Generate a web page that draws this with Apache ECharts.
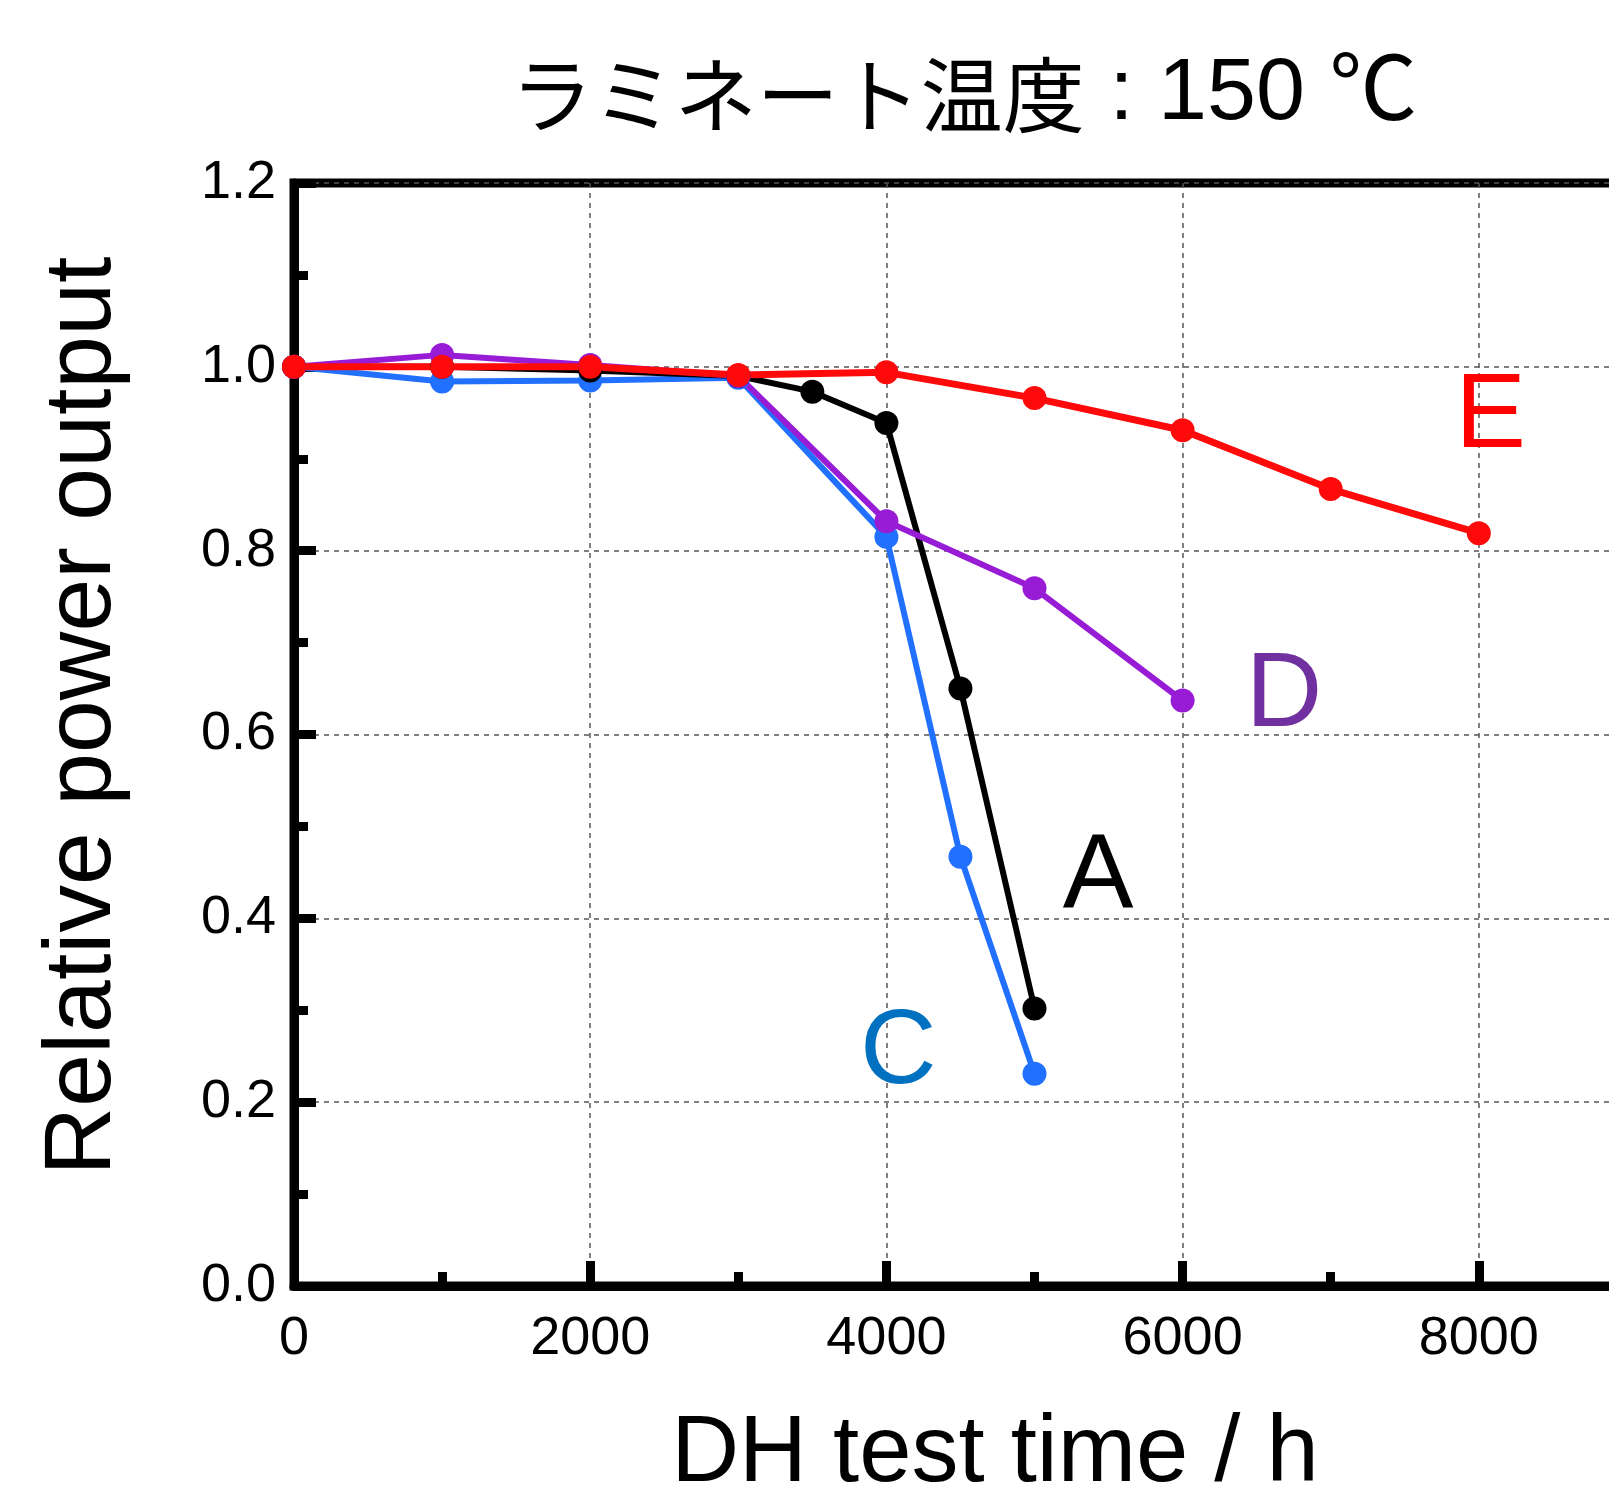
<!DOCTYPE html>
<html>
<head>
    <meta charset="UTF-8">
    <title>ラミネート温度 150℃</title>
    <script src="https://cdn.jsdelivr.net/npm/echarts@6/dist/echarts.min.js"></script>
    <style>
        html, body { margin: 0; padding: 0; background: #fff; overflow: hidden; }
        /* 右端の枠は画面外にはみ出させる */
        #main { width: 1800px; height: 1494px; }
    </style>
</head>
<body>
<div id="main"></div>
<script>
    // 試験時間 (h) と相対出力
    var hoursA = [0, 1000, 2000, 3000, 3500, 4000, 4500, 5000];
    var outA   = [1.0, 1.0, 0.996, 0.99, 0.973, 0.939, 0.650, 0.302];
    var hoursC = [0, 1000, 2000, 3000, 4000, 4500, 5000];
    var outC   = [1.0, 0.984, 0.985, 0.988, 0.815, 0.467, 0.231];
    var hoursD = [0, 1000, 2000, 3000, 4000, 5000, 6000];
    var outD   = [1.0, 1.013, 1.002, 0.99, 0.832, 0.759, 0.637];
    var hoursE = [0, 1000, 2000, 3000, 4000, 5000, 6000, 7000, 8000];
    var outE   = [1.0, 1.0, 1.0, 0.991, 0.994, 0.966, 0.931, 0.867, 0.819];

    // 系列ラベル (A, C, D, E) の位置
    var labelNames = ['A', 'C', 'D', 'E'];
    var labelX = [5430, 4080, 6685, 8080];
    var labelY = [0.444, 0.253, 0.641, 0.945];

    var xTicks = [0, 2000, 4000, 6000, 8000];

    var FONT = "'Liberation Sans', Arial, Helvetica, sans-serif";

    function pairs(xs, ys) {
        var out = [];
        for (var i = 0; i < xs.length; i++) out.push([xs[i], ys[i]]);
        return out;
    }

    function tag(i, color) {
        return {
            symbol: 'circle',
            symbolSize: 1,
            itemStyle: {color: 'rgba(0,0,0,0)'},
            label: {
                show: true, position: 'inside', color: color,
                fontFamily: FONT, fontSize: 106,
                formatter: labelNames[i]
            },
            data: [{coord: [labelX[i], labelY[i]]}]
        };
    }

    function line(name, xs, ys, color, width, labelIdx, labelColor) {
        return {
            name: name,
            type: 'line',
            data: pairs(xs, ys),
            symbol: 'circle',
            symbolSize: 24,
            lineStyle: {color: color, width: width},
            itemStyle: {color: color},
            markPoint: tag(labelIdx, labelColor)
        };
    }

    var chart = echarts.init(document.getElementById('main'), null, {renderer: 'canvas'});

    var tickStyle = {color: '#000', width: 9};

    chart.setOption({
        animation: false,
        backgroundColor: '#fff',
        grid: {
            left: 294, top: 183, bottom: 208, right: 25,
            show: true, borderColor: '#000', borderWidth: 9
        },
        xAxis: {
            type: 'value', min: 0, max: 10000, interval: 2000,
            axisLine: {show: true, onZero: false, lineStyle: tickStyle},
            axisTick: {show: true, inside: true, length: 25, lineStyle: tickStyle},
            minorTick: {show: true, splitNumber: 2, length: 14, lineStyle: tickStyle},
            axisLabel: {
                color: '#000', fontFamily: FONT, fontSize: 54, margin: 26,
                formatter: function (v) { return xTicks.indexOf(v) >= 0 ? String(v) : ''; }
            },
            splitLine: {show: true, lineStyle: {color: '#555', type: [5, 5], width: 1.5}}
        },
        yAxis: {
            type: 'value', min: 0, max: 1.2, interval: 0.2,
            axisLine: {show: true, onZero: false, lineStyle: tickStyle},
            axisTick: {show: true, inside: true, length: 22, lineStyle: tickStyle},
            minorTick: {show: true, splitNumber: 2, length: 14, lineStyle: tickStyle},
            axisLabel: {
                color: '#000', fontFamily: FONT, fontSize: 54, margin: 18,
                formatter: function (v) { return v.toFixed(1); }
            },
            splitLine: {show: true, lineStyle: {color: '#555', type: [5, 5], width: 1.5}}
        },
        series: [
            line('C', hoursC, outC, '#2170ff', 6, 1, '#0070c0'),
            line('A', hoursA, outA, '#000000', 6, 0, '#000000'),
            line('D', hoursD, outD, '#981bd6', 6, 2, '#7030a0'),
            line('E', hoursE, outE, '#ff0a0a', 7, 3, '#ff0000')
        ],
        graphic: [
            {
                type: 'text', x: 964, y: 95,
                style: {
                    text: '{a|ラミネート温度}{b| : 150 ℃}',
                    align: 'center', verticalAlign: 'middle', fill: '#000',
                    rich: {
                        a: {fontFamily: "'Noto Sans CJK JP', sans-serif", fontSize: 82, fill: '#000'},
                        b: {fontFamily: "'Liberation Sans', 'Noto Sans CJK JP', sans-serif", fontSize: 88, fill: '#000'}
                    }
                }
            },
            {
                type: 'text', x: 84, y: 716, rotation: Math.PI / 2,
                style: {
                    text: 'Relative power output', fill: '#000',
                    font: "95px 'Liberation Sans', Arial, sans-serif",
                    align: 'center', verticalAlign: 'middle'
                }
            },
            {
                type: 'text', x: 995, y: 1455,
                style: {
                    text: 'DH test time / h', fill: '#000',
                    font: "94px 'Liberation Sans', Arial, sans-serif",
                    align: 'center', verticalAlign: 'middle'
                }
            }
        ]
    });
</script>
</body>
</html>
